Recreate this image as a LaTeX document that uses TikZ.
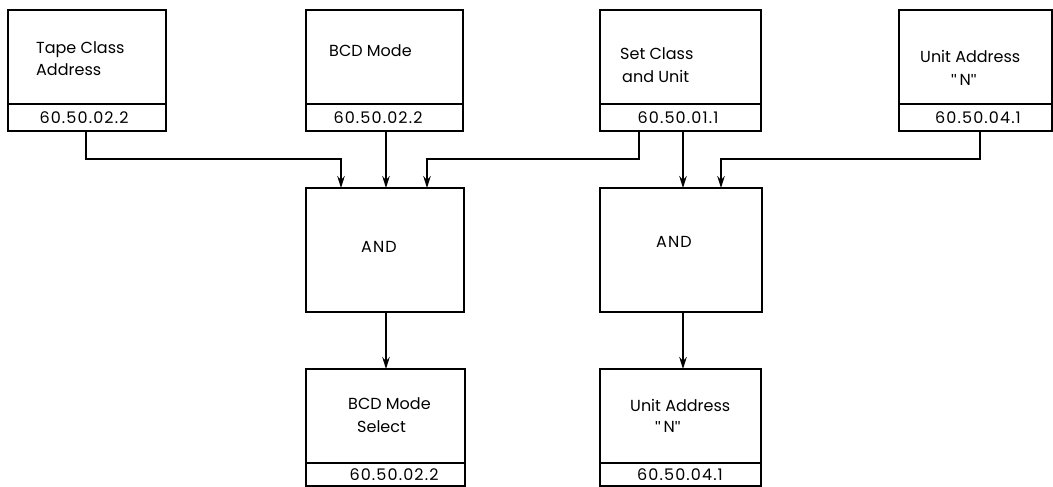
\documentclass[tikz,border=0pt]{standalone}
\usepackage{fontspec}
\setmainfont{Poppins}
\newfontfamily\numfont[LetterSpace=7]{Poppins}
\newfontfamily\quotefont{Liberation Sans}
\usetikzlibrary{arrows.meta,calc}
\newcommand\qN{{\quotefont\symbol{34}}\,N{\quotefont\symbol{34}}}
\begin{document}
\begin{tikzpicture}[x=1pt,y=-1pt,
  frame/.style={draw, line width=1.6pt, inner sep=0pt, outer sep=0pt, anchor=north west},
  rule/.style={line width=1.6pt},
  wire/.style={line width=1.6pt, -{Stealth[length=12pt,width=7.5pt]}},
  txt/.style={inner sep=0pt, font=\fontsize{16}{19}\selectfont},
  lbl/.style={txt, anchor=base west},
  num/.style={inner sep=0pt, anchor=base, font=\fontsize{16}{19}\numfont}]
\useasboundingbox (0,0) rectangle (1053,487);

% source boxes, each with a reference strip at the bottom
\node[frame, minimum width=158pt, minimum height=121pt] (tca) at (8,10) {};
\node[frame, minimum width=157pt, minimum height=121pt] (bcd) at (306,10) {};
\node[frame, minimum width=161pt, minimum height=121pt] (scu) at (600,10) {};
\node[frame, minimum width=153pt, minimum height=121pt] (uan) at (899,10) {};
\foreach \b in {tca,bcd,scu,uan}
  \draw[rule] ([yshift=27pt]\b.south west) -- ([yshift=27pt]\b.south east);

% AND gates
\node[frame, minimum width=158pt, minimum height=124pt] (and1) at (306,188) {};
\node[frame, minimum width=162pt, minimum height=124pt] (and2) at (600,188) {};

% result boxes
\node[frame, minimum width=159pt, minimum height=117pt] (sel) at (306,369) {};
\node[frame, minimum width=161pt, minimum height=117pt] (uar) at (600,369) {};
\foreach \b in {sel,uar}
  \draw[rule] ([yshift=23pt]\b.south west) -- ([yshift=23pt]\b.south east);

% labels
\node[lbl] (tca-a) at (36,54) {Tape Class};
\node[lbl] (tca-b) at (36,76) {Address};
\node[num] (tca-n) at (84,124) {60.50.02.2};
\node[lbl] (bcd-a) at (329,57) {BCD Mode};
\node[num] (bcd-n) at (378,124) {60.50.02.2};
\node[lbl] (scu-a) at (620,60) {Set Class};
\node[lbl] (scu-b) at (622,82) {and Unit};
\node[num] (scu-n) at (678,124) {60.50.01.1};
\node[lbl] (uan-a) at (920,63) {Unit Address};
\node[lbl] (uan-b) at (951,85) {\qN};
\node[num] (uan-n) at (978,124) {60.50.04.1};
\node[num] (and1-t) at (379,252) {AND};
\node[num] (and2-t) at (674,247) {AND};
\node[lbl] (sel-a) at (348,409) {BCD Mode};
\node[lbl] (sel-b) at (357,432) {Select};
\node[num] (sel-n) at (394,480) {60.50.02.2};
\node[lbl] (uar-a) at (630,411) {Unit Address};
\node[lbl] (uar-b) at (655,432) {\qN};
\node[num] (uar-n) at (680,480) {60.50.04.1};

% connection points
\coordinate (tca-o) at (86,131);
\coordinate (bcd-o) at (386,131);
\coordinate (scu-o1) at (639,131);
\coordinate (scu-o2) at (683,131);
\coordinate (uan-o) at (980,131);
\coordinate (and1-i1) at (341,188);
\coordinate (and1-i2) at (386,188);
\coordinate (and1-i3) at (427,188);
\coordinate (and2-i1) at (683,188);
\coordinate (and2-i2) at (721,188);

% signal lines
\draw[wire] (tca-o) |- ($(and1-i1)+(0,-29)$) -- (and1-i1);
\draw[wire] (bcd-o) -- (and1-i2);
\draw[wire] (scu-o1) |- ($(and1-i3)+(0,-29)$) -- (and1-i3);
\draw[wire] (scu-o2) -- (and2-i1);
\draw[wire] (uan-o) |- ($(and2-i2)+(0,-29)$) -- (and2-i2);
\draw[wire] (and1.south -| and1-i2) -- (sel.north -| and1-i2);
\draw[wire] (and2.south -| and2-i1) -- (uar.north -| and2-i1);
\end{tikzpicture}
\end{document}
